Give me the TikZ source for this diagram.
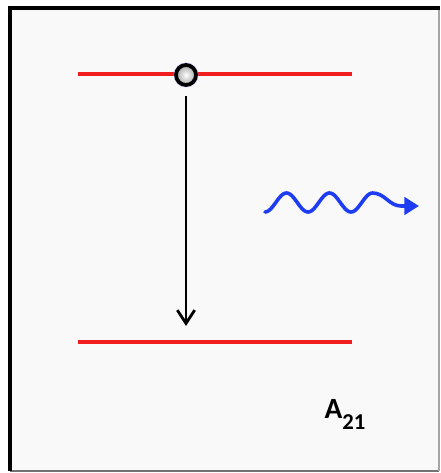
\documentclass[tikz,border=0pt]{standalone}
\usepackage{fontspec}
\setsansfont{Carlito}
\usepackage{tikz}
\usetikzlibrary{arrows.meta, calc, positioning}
\definecolor{bgpanel}{HTML}{F9F9F9}
\definecolor{levelred}{HTML}{F01E1E}
\definecolor{photonblue}{HTML}{1F3CF5}

\begin{document}
\begin{tikzpicture}[x=0.75pt, y=-0.75pt,
    level/.style={levelred, line width=2.6pt},
    decay/.style={-{Straight Barb[length=10pt, width=13pt]}, line width=2.1pt},
    photon/.style={photonblue, line width=2.7pt, line cap=round, -{Triangle[length=11pt, width=13pt]}}]
    \useasboundingbox (0, 0) rectangle (440, 473);
    % 背景与边框
    \fill[white] (0, 0) rectangle (440, 473);
    \fill[bgpanel] (10, 8) rectangle (439, 471);
    \draw[black!55, line width=1.5pt] (10, 471) -- (439, 471);
    \draw[black!35, line width=0.8pt] (439, 8) -- (439, 471);
    \draw[black, line width=2.6pt] (10, 471) -- (10, 8) -- (440, 8);

    % 能级
    \coordinate (upper left) at (78, 74);
    \coordinate (upper right) at (352, 74);
    \coordinate (lower left) at (78, 342);
    \coordinate (lower right) at (352, 342);
    \draw[level] (upper left) -- (upper right);
    \draw[level] (lower left) -- (lower right);

    % 电子
    \fill[photonblue!40, opacity=0.6] (186, 75) circle (12.5);
    \node[circle, draw=black, line width=2.8pt, minimum size=15pt, inner sep=0pt,
          inner color=white, outer color=black!35] (electron) at (186, 75) {};

    % 跃迁
    \coordinate (landing) at (186, 326);
    \draw[decay] (electron.south) ++(0, -7pt) coordinate (drop) -- (landing);

    % 光子
    \coordinate (wave end) at (419, 206);
    \draw[photon] plot[domain=0:107.5, samples=80] ({265 + \x}, {202.5 + 9.5*cos(\x/43*360)})
        .. controls (385, 193) and (389, 206) .. (401, 206) -- (wave end);

    % 标注
    \node[font=\sffamily\bfseries\fontsize{22}{22}\selectfont, anchor=base west] (coef) at (320, 418)
        {A\raisebox{-8.5pt}{\fontsize{17}{17}\selectfont 21}};
\end{tikzpicture}
\end{document}
